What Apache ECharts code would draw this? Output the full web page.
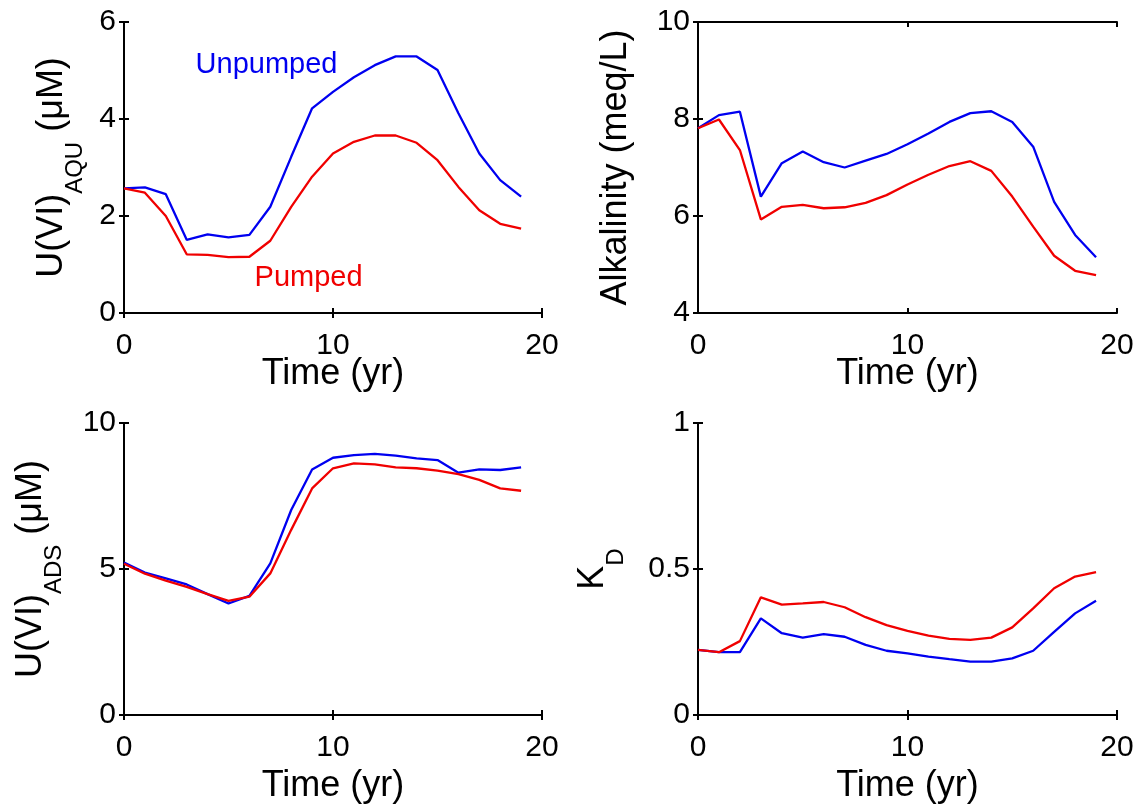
<!DOCTYPE html>
<html>
<head>
<meta charset="utf-8">
<script src="https://cdn.jsdelivr.net/npm/echarts@6/dist/echarts.min.js"></script>
<style>
html,body{margin:0;padding:0;background:#fff;}
#c{width:1142px;height:812px;}
</style>
</head>
<body>
<div id="c"></div>
<script>
// ---- data ----
const years = [0,1,2,3,4,5,6,7,8,9,10,11,12,13,14,15,16,17,18,19];

const uAquUnpumped = [2.57,2.59,2.45,1.51,1.62,1.56,1.61,2.19,3.22,4.22,4.56,4.86,5.11,5.29,5.29,5.01,4.12,3.29,2.74,2.40];
const uAquPumped   = [2.57,2.48,2.00,1.21,1.20,1.15,1.16,1.49,2.19,2.81,3.29,3.53,3.66,3.66,3.51,3.15,2.60,2.12,1.84,1.74];

const alkUnpumped = [7.81,8.08,8.15,6.40,7.09,7.33,7.11,7.00,7.14,7.28,7.48,7.70,7.94,8.12,8.16,7.94,7.43,6.29,5.61,5.15];
const alkPumped   = [7.81,7.99,7.36,5.93,6.19,6.23,6.16,6.18,6.27,6.43,6.65,6.85,7.03,7.13,6.93,6.40,5.78,5.18,4.87,4.78];

const uAdsUnpumped = [5.22,4.88,4.68,4.47,4.14,3.82,4.08,5.19,7.02,8.41,8.81,8.90,8.94,8.88,8.79,8.73,8.30,8.41,8.39,8.48];
const uAdsPumped   = [5.18,4.84,4.60,4.39,4.14,3.91,4.05,4.85,6.34,7.76,8.45,8.62,8.58,8.48,8.45,8.37,8.25,8.05,7.76,7.68];

const kdUnpumped = [0.223,0.215,0.215,0.331,0.280,0.265,0.277,0.268,0.240,0.220,0.211,0.200,0.191,0.183,0.183,0.194,0.220,0.285,0.348,0.391];
const kdPumped   = [0.223,0.215,0.253,0.403,0.378,0.382,0.387,0.369,0.335,0.308,0.288,0.272,0.261,0.257,0.265,0.300,0.365,0.434,0.474,0.489];

const xRange = {min:0, max:20, interval:10};
const yRanges = [
  {min:0, max:6, interval:2},
  {min:4, max:10, interval:2},
  {min:0, max:10, interval:5},
  {min:0, max:1, interval:0.5}
];
const yNames = [
  '{m|U(VI)}{s|AQU}{m| (μM)}',
  '{m|Alkalinity (meq/L)}',
  '{m|U(VI)}{s|ADS}{m| (μM)}',
  '{m|K}{s|D}'
];
const xName = 'Time (yr)';
const annUnpumped = {label:'Unpumped', coord:[6.82, 5.12]};
const annPumped = {label:'Pumped', coord:[8.83, 0.73]};

// ---- layout / style ----
const FONT = '"Liberation Sans", Arial, Helvetica, sans-serif';
const BLUE = '#0000f0', RED = '#f00000';
const grids = [
  {left:124, top:22, width:418, height:291},
  {left:698, top:22, width:419, height:291},
  {left:124, top:423, width:418, height:292},
  {left:698, top:423, width:419, height:292}
];
const yNameGaps = [49, 59, 70, 82];
const xNameGaps = [41, 41, 51, 51];

const rich = {
  m:{fontSize:36, lineHeight:41, verticalAlign:'top', fontFamily:FONT, color:'#000'},
  s:{fontSize:24, lineHeight:27, padding:[29,0,0,0], verticalAlign:'top', fontFamily:FONT, color:'#000'}
};
const lineAx = {show:true, lineStyle:{color:'#000', width:2}};
const tickAx = {show:true, inside:true, length:5, lineStyle:{color:'#000', width:2}};

const xAxis = [], yAxis = [], series = [];
const pairs = [[uAquUnpumped,uAquPumped],[alkUnpumped,alkPumped],[uAdsUnpumped,uAdsPumped],[kdUnpumped,kdPumped]];

grids.forEach((g,i)=>{
  xAxis.push({type:'value', gridIndex:i, position:'bottom', min:xRange.min, max:xRange.max, interval:xRange.interval,
    axisLine:lineAx, axisTick:tickAx, splitLine:{show:false},
    axisLabel:{show:true, margin:17, fontSize:30, lineHeight:32, fontFamily:FONT, color:'#000'},
    name:xName, nameLocation:'middle', nameGap:xNameGaps[i], nameMoveOverlap:false,
    nameTextStyle:{fontSize:36, lineHeight:41, fontFamily:FONT, color:'#000'}});
  xAxis.push({type:'value', gridIndex:i, position:'top', min:xRange.min, max:xRange.max, interval:xRange.interval,
    axisLine:lineAx, axisTick:tickAx, splitLine:{show:false}, axisLabel:{show:false}});
  const yr = yRanges[i];
  yAxis.push({type:'value', gridIndex:i, position:'left', min:yr.min, max:yr.max, interval:yr.interval,
    axisLine:lineAx, axisTick:tickAx, splitLine:{show:false},
    axisLabel:{show:true, margin:8, fontSize:30, fontFamily:FONT, color:'#000'},
    name:yNames[i], nameLocation:'middle', nameGap:yNameGaps[i], nameRotate:90, nameMoveOverlap:false,
    nameTextStyle:{fontSize:36, fontFamily:FONT, color:'#000', rich:rich}});
  yAxis.push({type:'value', gridIndex:i, position:'right', min:yr.min, max:yr.max, interval:yr.interval,
    axisLine:lineAx, axisTick:tickAx, splitLine:{show:false}, axisLabel:{show:false}});
  const [u,p] = pairs[i];
  const mk = (arr)=>years.map((t,k)=>[t,arr[k]]);
  const sU = {type:'line', xAxisIndex:2*i, yAxisIndex:2*i, data:mk(u), showSymbol:false, symbol:'none',
    lineStyle:{color:BLUE, width:2.3}, itemStyle:{color:BLUE}, z:3, animation:false, silent:true};
  const sP = {type:'line', xAxisIndex:2*i, yAxisIndex:2*i, data:mk(p), showSymbol:false, symbol:'none',
    lineStyle:{color:RED, width:2.3}, itemStyle:{color:RED}, z:4, animation:false, silent:true};
  if(i===0){
    sU.markPoint = {symbol:'circle', symbolSize:0, silent:true, animation:false,
      label:{show:true, position:'inside', formatter:annUnpumped.label, fontSize:29, fontFamily:FONT, color:BLUE},
      data:[{coord:annUnpumped.coord}]};
    sP.markPoint = {symbol:'circle', symbolSize:0, silent:true, animation:false,
      label:{show:true, position:'inside', formatter:annPumped.label, fontSize:29, fontFamily:FONT, color:RED},
      data:[{coord:annPumped.coord}]};
  }
  series.push(sU, sP);
});

const chart = echarts.init(document.getElementById('c'), null, {renderer:'canvas'});
chart.setOption({
  animation:false,
  backgroundColor:'#fff',
  grid:grids.map(g=>Object.assign({containLabel:false}, g)),
  xAxis:xAxis, yAxis:yAxis, series:series
});
</script>
</body>
</html>
